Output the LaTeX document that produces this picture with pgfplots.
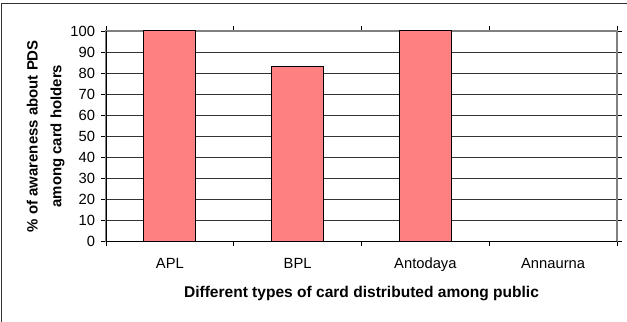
\documentclass[border=0pt]{standalone}
\usepackage{fontspec}
\setmainfont{Liberation Sans}
\usepackage{pgfplots}
\pgfplotsset{compat=1.18}
\definecolor{barfill}{HTML}{FF8080}
\begin{document}
\begin{tikzpicture}
\useasboundingbox (0,0) rectangle (627bp,322bp);
\draw[line width=1.2bp, black!80] (1.5bp,0) -- (1.5bp,318.5bp) -- (627bp,318.5bp);
\begin{axis}[
  at={(106bp,80.7bp)}, anchor=south west,
  scale only axis, width=511bp, height=210.3bp,
  xmin=-0.5, xmax=3.5, ymin=0, ymax=100,
  xtick={-0.5,0.5,1.5,2.5,3.5}, xticklabels={},
  extra x ticks={0,1,2,3},
  extra x tick labels={APL,BPL,Antodaya,Annaurna},
  extra x tick style={major tick length=0pt, grid=none},
  ytick={0,10,...,100},
  tick align=outside,
  major tick length=5bp,
  tick style={draw=black, line width=0.8bp},
  ymajorgrids,
  major grid style={draw=black!80, line width=0.8bp},
  axis line style={draw=gray, line width=1.2bp},
  /pgf/number format/assume math mode=true,
  ticklabel style={font=\fontsize{14.8}{17}\selectfont},
  xticklabel style={anchor=base, yshift=-27.3bp},
  yticklabel style={anchor=east, xshift=-2.5bp},
  xlabel={Different types of card distributed among public},
  xlabel style={at={(axis description cs:0.5,0)}, anchor=center, yshift=-52.5bp,
    font=\bfseries\fontsize{15.6}{18}\selectfont},
  ylabel={\% of awareness about PDS\\among card holders},
  ylabel style={at={(axis description cs:-0.118,0.5)}, anchor=center, align=center,
    font=\bfseries\fontsize{15}{24}\selectfont},
]
\addplot[ybar, bar width=52bp, fill=barfill, draw=black, line width=1bp]
  coordinates {(0,100) (1,83) (2,100) (3,0)};
\draw[black, line width=1.2bp] (rel axis cs:0,1) -- (rel axis cs:0,0) -- (rel axis cs:1,0);
\end{axis}
\end{tikzpicture}
\end{document}
